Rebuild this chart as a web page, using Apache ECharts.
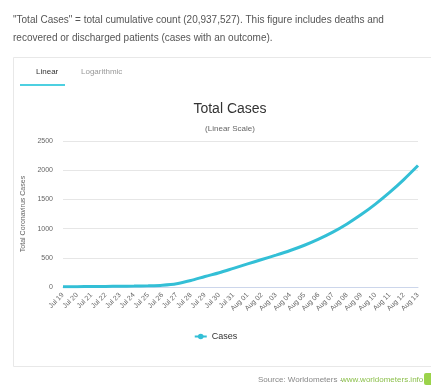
<!DOCTYPE html>
<html>
<head>
<meta charset="utf-8">
<script src="https://cdn.jsdelivr.net/npm/echarts@6/dist/echarts.min.js"></script>
<style>
  html, body { margin: 0; padding: 0; background: #fff; }
  #chart { width: 431px; height: 389px; }
</style>
</head>
<body>
<div id="chart"></div>
<script>
// Daily dates on the x axis
const dates = [
  'Jul 19', 'Jul 20', 'Jul 21', 'Jul 22', 'Jul 23', 'Jul 24', 'Jul 25', 'Jul 26',
  'Jul 27', 'Jul 28', 'Jul 29', 'Jul 30', 'Jul 31', 'Aug 01', 'Aug 02', 'Aug 03',
  'Aug 04', 'Aug 05', 'Aug 06', 'Aug 07', 'Aug 08', 'Aug 09', 'Aug 10', 'Aug 11',
  'Aug 12', 'Aug 13'
];
// Cumulative case count per day
const cases = [
  5, 6, 8, 10, 12, 15, 20, 30,
  55, 110, 180, 245, 320, 395, 470, 545,
  625, 715, 820, 940, 1080, 1240, 1420, 1620,
  1840, 2080
];
const yTicks = [0, 500, 1000, 1500, 2000, 2500];

const chart = echarts.init(document.getElementById('chart'));
const font = 'Liberation Sans, Arial, sans-serif';

chart.setOption({
  backgroundColor: '#ffffff',
  animation: false,
  textStyle: { fontFamily: font },
  title: {
    text: 'Total Cases',
    subtext: '(Linear Scale)',
    left: 225,
    textAlign: 'center',
    top: 97,
    itemGap: 9,
    textStyle: { fontSize: 14, fontWeight: 'normal', color: '#333333', fontFamily: font },
    subtextStyle: { fontSize: 8, color: '#666666', fontFamily: font }
  },
  legend: {
    data: ['Cases'],
    left: 'center',
    top: 327,
    itemWidth: 12,
    itemHeight: 7,
    textStyle: { fontSize: 9, color: '#333333', fontFamily: font }
  },
  grid: { left: 63, right: 13, top: 141, bottom: 102, containLabel: false },
  xAxis: {
    type: 'category',
    data: dates,
    boundaryGap: false,
    axisLine: { show: true, lineStyle: { color: '#ccd6eb' } },
    axisTick: { show: false },
    axisLabel: {
      rotate: 45,
      fontSize: 7,
      color: '#666666',
      interval: 0,
      margin: 7
    },
    splitLine: { show: false }
  },
  yAxis: {
    type: 'value',
    min: yTicks[0],
    max: yTicks[yTicks.length - 1],
    interval: 500,
    name: 'Total Coronavirus Cases',
    nameLocation: 'middle',
    nameGap: 28,
    nameTextStyle: { fontSize: 7, color: '#666666' },
    axisLine: { show: false },
    axisTick: { show: false },
    axisLabel: { fontSize: 7, color: '#666666', margin: 10, formatter: v => String(v) },
    splitLine: { lineStyle: { color: '#e6e6e6', width: 1 } }
  },
  series: [{
    name: 'Cases',
    type: 'line',
    data: cases,
    smooth: 0.3,
    showSymbol: false,
    symbol: 'circle',
    symbolSize: 5,
    lineStyle: { color: '#33bfd6', width: 3 },
    itemStyle: { color: '#33bfd6' }
  }],
  graphic: [
    // intro note above the chart
    {
      type: 'text', left: 13, top: 11,
      style: {
        text: '"Total Cases" = total cumulative count (20,937,527). This figure includes deaths and\nrecovered or discharged patients (cases with an outcome).',
        fontSize: 10, lineHeight: 18, fill: '#555555', fontFamily: font
      }
    },
    // chart panel frame
    {
      type: 'rect', shape: { x: 13.5, y: 57.5, width: 430, height: 309 },
      style: { fill: 'none', stroke: '#e8e8e8', lineWidth: 1 }
    },
    // tab bar
    {
      type: 'text', left: 36, top: 68,
      style: { text: 'Linear', fontSize: 8, fill: '#333333', fontFamily: font }
    },
    {
      type: 'text', left: 81, top: 68,
      style: { text: 'Logarithmic', fontSize: 8, fill: '#999999', fontFamily: font }
    },
    {
      type: 'rect', shape: { x: 20, y: 84, width: 45, height: 2 },
      style: { fill: '#4dd0e1' }
    },
    // source line
    {
      type: 'text', left: 258, top: 376,
      style: { text: 'Source: Worldometers -', fontSize: 8, fill: '#888888', fontFamily: font }
    },
    {
      type: 'text', left: 341, top: 376,
      style: { text: 'www.worldometers.info', fontSize: 8, fill: '#8bbf4a', fontFamily: font }
    },
    {
      type: 'rect', shape: { x: 424, y: 373, width: 9, height: 12, r: 2 },
      style: { fill: '#9bd34a' }
    }
  ]
});
</script>
</body>
</html>
